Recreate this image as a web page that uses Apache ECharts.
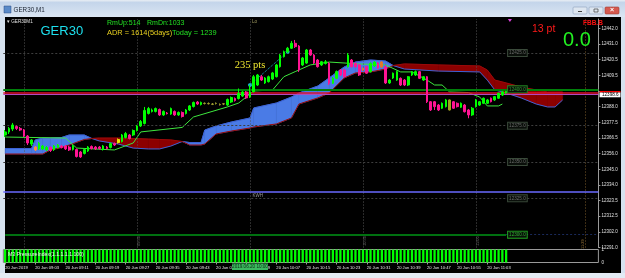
<!DOCTYPE html>
<html><head><meta charset="utf-8">
<script src="https://cdn.jsdelivr.net/npm/echarts@6.0.0/dist/echarts.min.js"></script>
<style>html,body{margin:0;padding:0;overflow:hidden;background:#d6e2ef}#c{width:625px;height:278px}</style>
</head><body><div id="c"></div>
<script>
// ---------------- data ----------------
const startMinute = 8 * 60 + 55;
const barSlots = 158;
const categories = [];
for (let k = 0; k < barSlots; k++) {
  const m = startMinute + k;
  categories.push(String(Math.floor(m / 60)).padStart(2, '0') + ':' + String(m % 60).padStart(2, '0'));
}
const tickIndex = [0, 8, 16, 24, 32, 40, 48, 56, 64, 72, 80, 88, 96, 104, 112, 120, 128];
const tickLabels = ['20 Jun 2019', '20 Jun 09:03', '20 Jun 09:11', '20 Jun 09:19', '20 Jun 09:27', '20 Jun 09:35',
  '20 Jun 09:43', '20 Jun 09:51', '20 Jun 09:59', '20 Jun 10:07', '20 Jun 10:15', '20 Jun 10:23', '20 Jun 10:31',
  '20 Jun 10:39', '20 Jun 10:47', '20 Jun 10:55', '20 Jun 11:03'];

const open = [12368.6,12370.7,12372.7,12374.4,12373.1,12372.0,12367.9,12362.4,12360.3,12359.0,
12359.0,12358.3,12360.0,12358.6,12360.0,12361.0,12361.0,12360.3,12358.6,12358.6,
12356.9,12355.9,12357.6,12360.7,12360.3,12360.3,12358.6,12360.3,12360.0,12362.7,
12363.4,12364.1,12366.9,12368.6,12368.6,12371.7,12374.8,12376.5,12383.4,12384.8,
12384.8,12386.1,12382.4,12383.7,12383.0,12384.8,12382.4,12384.1,12383.4,12385.8,
12388.2,12391.3,12389.6,12390.3,12390.3,12389.9,12390.3,12389.6,12389.9,12389.2,
12391.3,12393.7,12393.7,12395.4,12398.2,12394.7,12398.4,12403.0,12408.7,12404.4,
12405.3,12407.1,12408.7,12415.6,12422.5,12425.9,12428.3,12431.7,12429.8,12416.8,
12418.1,12427.1,12423.6,12420.2,12416.8,12417.8,12417.9,12404.2,12407.6,12413.3,
12413.3,12415.6,12420.2,12417.9,12416.8,12414.5,12415.6,12412.2,12416.1,12418.1,
12418.8,12415.4,12404.4,12407.8,12406.4,12407.6,12406.4,12403.0,12409.9,12409.9,
12412.2,12406.4,12408.7,12391.5,12391.5,12389.2,12387.0,12388.1,12385.8,12391.5,
12390.4,12387.7,12389.2,12385.8,12382.4,12388.1,12389.2,12390.4,12390.4,12393.9,
12392.7,12393.9,12396.1,12397.5];
const close = [12370.7,12373.1,12375.5,12373.1,12372.0,12367.9,12363.1,12365.2,12358.3,12362.7,
12361.0,12360.0,12357.9,12361.0,12361.7,12360.0,12359.0,12358.3,12361.0,12353.8,
12353.5,12358.6,12360.3,12359.3,12359.0,12359.3,12361.0,12359.3,12362.7,12361.7,
12365.5,12368.6,12369.6,12366.2,12371.7,12374.8,12377.9,12385.5,12386.8,12385.8,
12386.8,12382.4,12384.8,12383.3,12386.8,12382.4,12384.1,12381.3,12385.8,12388.6,
12391.0,12389.9,12391.0,12390.4,12390.1,12389.7,12390.4,12389.4,12390.1,12393.0,
12394.4,12392.3,12397.2,12398.2,12394.1,12398.2,12408.7,12409.9,12406.4,12407.8,
12408.7,12411.3,12416.8,12423.6,12425.9,12428.3,12431.7,12429.4,12413.3,12421.6,
12427.1,12423.6,12418.1,12415.6,12419.0,12419.0,12404.2,12407.6,12412.2,12409.9,
12408.7,12423.6,12415.6,12415.6,12409.9,12413.3,12411.1,12417.9,12418.8,12414.7,
12415.4,12404.4,12406.4,12411.1,12412.2,12403.0,12403.0,12408.7,12412.2,12412.2,
12407.6,12408.7,12391.5,12385.8,12388.1,12385.8,12390.4,12392.7,12392.7,12387.0,
12388.1,12390.4,12384.6,12382.4,12387.0,12392.7,12391.5,12393.9,12392.7,12391.5,
12395.0,12397.3,12398.2,12398.6];
const low = [12367.2,12369.3,12371.3,12372.0,12371.3,12367.2,12361.7,12361.0,12357.6,12358.3,
12358.3,12357.6,12356.9,12357.6,12359.3,12359.3,12358.3,12357.6,12357.9,12353.1,
12352.8,12355.2,12356.9,12358.6,12358.3,12358.6,12357.9,12358.6,12359.3,12361.0,
12362.7,12363.4,12366.2,12365.5,12367.9,12371.0,12374.1,12375.8,12382.7,12384.1,
12384.1,12381.7,12381.7,12382.7,12382.4,12381.7,12381.7,12380.6,12382.7,12385.1,
12387.5,12389.2,12388.9,12389.6,12389.6,12389.2,12389.6,12388.9,12389.2,12388.6,
12390.6,12391.6,12393.0,12394.7,12393.4,12394.1,12397.8,12402.3,12405.8,12403.7,
12404.7,12406.4,12408.2,12415.0,12421.9,12425.0,12427.8,12428.5,12412.0,12416.1,
12417.5,12423.0,12417.5,12415.0,12416.1,12417.1,12403.0,12403.7,12407.1,12409.2,
12408.2,12415.0,12415.0,12415.0,12409.2,12412.6,12410.6,12411.6,12415.4,12414.0,
12414.7,12403.7,12403.7,12407.1,12405.8,12402.3,12402.3,12402.3,12409.2,12409.2,
12407.1,12405.8,12390.6,12385.1,12385.8,12385.1,12386.5,12387.5,12385.5,12386.5,
12387.5,12387.2,12384.1,12380.1,12381.7,12387.5,12388.6,12389.9,12389.9,12391.0,
12392.0,12393.4,12395.4,12396.8];
const high = [12372.0,12374.1,12376.9,12375.1,12374.1,12372.7,12368.6,12365.8,12361.0,12363.8,
12361.7,12361.0,12360.7,12361.7,12362.4,12361.7,12361.7,12361.0,12361.7,12359.3,
12357.6,12359.3,12361.0,12361.4,12361.0,12361.0,12361.7,12361.0,12363.4,12363.4,
12366.2,12369.3,12370.7,12369.3,12372.4,12375.5,12378.9,12387.9,12387.9,12386.8,
12387.5,12386.8,12385.5,12384.4,12387.5,12385.5,12384.8,12384.8,12386.5,12389.2,
12391.6,12392.0,12391.6,12391.0,12391.0,12390.6,12391.0,12390.3,12390.6,12393.7,
12395.1,12394.4,12400.6,12398.9,12398.9,12403.0,12409.9,12410.6,12409.9,12408.5,
12409.5,12412.0,12417.5,12424.3,12426.7,12429.2,12433.3,12434.0,12430.5,12422.3,
12427.8,12427.8,12424.3,12420.9,12419.5,12420.2,12418.8,12408.5,12413.0,12414.0,
12414.0,12425.0,12420.9,12418.5,12417.5,12415.0,12416.1,12418.5,12419.5,12418.8,
12419.5,12416.8,12407.1,12411.6,12413.0,12408.2,12407.1,12409.2,12412.6,12413.0,
12412.6,12409.2,12409.2,12392.0,12392.0,12389.9,12391.0,12393.4,12393.0,12392.0,
12391.0,12391.0,12389.9,12386.5,12387.9,12393.4,12392.0,12394.4,12393.4,12394.4,
12395.4,12397.8,12398.9,12398.9];

// Ichimoku cloud vertices (bar index, Senkou A, Senkou B)
const cloudIdx = [0,7,8,10,12,15,17,21,23,25,30,34,38,41,44,47,49,52,53,56,60,65,66,72,76,78,83,86,90,93,97,101,103,106,115,126,128,130,133,137,141,144,146,148];
const spanA = [12359.3,12359.3,12365.2,12366.5,12366.5,12366.9,12368.6,12368.6,12366.2,12364.5,
12362.4,12359.6,12359.0,12359.0,12361.0,12364.1,12363.4,12363.4,12372.0,12374.8,
12377.5,12380.3,12387.2,12390.6,12394.7,12397.5,12402.3,12407.8,12415.4,12418.8,
12420.2,12419.5,12416.4,12414.0,12412.6,12412.0,12406.4,12399.6,12397.5,12394.1,
12389.9,12387.9,12387.9,12392.7];
const spanB = [12355.5,12355.5,12355.5,12355.5,12358.3,12360.0,12361.7,12365.5,12366.2,12366.5,
12366.5,12366.2,12365.8,12365.5,12365.2,12364.1,12361.7,12361.7,12362.4,12369.3,
12371.3,12373.4,12374.1,12376.2,12380.3,12389.9,12394.1,12397.5,12407.8,12411.3,
12412.0,12414.0,12416.4,12417.5,12416.8,12416.1,12413.3,12406.4,12404.4,12401.6,
12399.6,12398.2,12398.2,12398.2];

// Kijun-sen vertices
const kijunIdx = [0,16,19,29,34,36,47,50,59,62,66,71,74,77,81,86,94,101,105,108,112,114,116,118,123,126,128,131,132];
const kijun = [12367.2,12366.5,12359.6,12358.3,12363.1,12370.7,12373.8,12381.0,12387.9,12390.6,
12398.9,12399.6,12408.7,12412.2,12416.8,12418.8,12417.5,12416.8,12412.0,12412.0,
12406.4,12403.0,12403.0,12398.2,12397.8,12394.7,12388.6,12388.6,12389.9];

// horizontal levels
const roundLevels = [12425, 12400, 12375, 12350, 12325, 12300];
const redLevel = 12398.0;
const purpleLevel = 12396.6;
const blueLevel = 12329.2;
const lastPrice = 12398.6;
const gridTimes = [5, 35, 65, 95, 125];
const futureLine = 154;
const trendStart = [65, 12403.0];
const trendEnd = [75, 12425.9];
const vLineNotes = [[35, '09:30'], [95, '10:30'], [125, '11:00']];

// sub-window histogram
const pressure = [1,1,1,1,1,1,1,1,1,1,1,1,1,1,1,1,1,1,1,1,1,1,1,1,1,1,1,1,1,1,1,1,1,1,1,1,1,1,1,1,
1,1,1,1,1,1,1,1,1,1,1,1,1,1,1,1,1,1,1,1,1,1,1,1,1,1,1,1,1,1,1,1,1,1,1,1,1,1,1,1,
1,1,1,1,1,1,1,1,1,1,1,1,1,1,1,1,1,1,1,1,1,1,1,1,1,1,1,1,1,1,1,1,1,1,1,1,1,1,1,1,
1,1,1,1,1,1,1,1,1,1,1,1,1,1];

// ---------------- styles ----------------
const BULL = '#00ff00', BEAR = '#ff1493';
const CLOUD_UP = '#4a7be6', CLOUD_DN = '#8c0000';
const FONT = '"Liberation Sans", Arial, sans-serif';
const candleColors = {8: '#ff8c40', 30: '#e8e800', 53: '#9a9a30', 54: '#9a9a30', 55: '#9a9a30', 56: '#9a9a30',
  57: '#9a9a30', 58: '#9a9a30', 95: '#e07830', 100: '#e07830', 118: '#a0a020'};

const candleData = open.map((o, k) => {
  const item = { value: [o, close[k], low[k], high[k]] };
  const c = candleColors[k];
  if (c) item.itemStyle = { color: c, color0: c, borderColor: c, borderColor0: c };
  return item;
});

const chart = echarts.init(document.getElementById('c'), null, { renderer: 'canvas', width: 625, height: 278 });

const YMIN = 12291.15, YMAX = 12448.42, YINT = 10.77;

function cloudRender(params, api) {
  const k = params.dataIndex;
  if (k >= cloudIdx.length - 1) return null;
  const a0 = api.coord([cloudIdx[k], spanA[k]]), b0 = api.coord([cloudIdx[k], spanB[k]]);
  const a1 = api.coord([cloudIdx[k + 1], spanA[k + 1]]), b1 = api.coord([cloudIdx[k + 1], spanB[k + 1]]);
  const d0 = spanA[k] - spanB[k], d1 = spanA[k + 1] - spanB[k + 1];
  const poly = (pts, up) => ({ type: 'polygon', shape: { points: pts },
    style: { fill: up ? CLOUD_UP : CLOUD_DN, stroke: up ? CLOUD_UP : CLOUD_DN, lineWidth: 0.6 } });
  const children = [];
  if (d0 * d1 >= 0) {
    children.push(poly([a0, a1, b1, b0], d0 + d1 >= 0));
  } else {
    const t = d0 / (d0 - d1);
    const m = [a0[0] + t * (a1[0] - a0[0]), a0[1] + t * (a1[1] - a0[1])];
    children.push(poly([a0, m, b0], d0 > 0));
    children.push(poly([m, a1, b1], d1 > 0));
  }
  return { type: 'group', children };
}

const boxLabel = (color, border) => ({
  show: true, position: 'inside', formatter: '{b}', fontSize: 4.6, fontFamily: FONT, color: color,
  backgroundColor: '#0a0f0a', borderColor: border, borderWidth: 1, padding: [1, 1, 0, 1]
});

const option = {
  animation: false,
  backgroundColor: '#d6e2ef',
  grid: [
    { left: 3.29, right: 26.6, top: 19, bottom: 30.47 },
    { left: 3.29, right: 26.6, top: 249.5, height: 13, show: true, backgroundColor: '#000', borderColor: '#9a9a9a', borderWidth: 1 }
  ],
  xAxis: [
    { type: 'category', gridIndex: 0, data: categories, boundaryGap: true,
      axisLine: { show: false }, axisTick: { show: false }, axisLabel: { show: false }, splitLine: { show: false } },
    { type: 'category', gridIndex: 1, data: categories, boundaryGap: true,
      axisLine: { show: false },
      axisTick: { show: true, alignWithLabel: true, length: 2, lineStyle: { color: '#9a9a9a' },
        interval: (i) => tickIndex.indexOf(i) >= 0 },
      axisLabel: { show: true, interval: (i) => tickIndex.indexOf(i) >= 0,
        formatter: (v, i) => { const p = tickIndex.indexOf(i); return p >= 0 ? tickLabels[p] : ''; },
        fontSize: 4.1, fontFamily: FONT, color: '#e6e6e6', align: 'left', margin: 3 },
      splitLine: { show: false } }
  ],
  yAxis: [
    { type: 'value', gridIndex: 0, position: 'right', min: YMIN, max: YMAX, interval: YINT,
      axisLine: { show: true, lineStyle: { color: '#9a9a9a' } },
      axisTick: { show: true, length: 2, lineStyle: { color: '#9a9a9a' } },
      axisLabel: { show: true, showMaxLabel: false, fontSize: 4.5, fontFamily: FONT, color: '#e0e0e0', margin: 3,
        formatter: (v) => (Math.abs(v - 12398.85) < 1 ? '' : (Math.round(v * 2) / 2).toFixed(1)) },
      splitLine: { show: false } },
    { type: 'value', gridIndex: 1, position: 'right', min: 0, max: 1, interval: 1,
      axisLine: { show: false }, axisTick: { show: false },
      axisLabel: { show: true, fontSize: 4.5, fontFamily: FONT, color: '#e0e0e0', margin: 3 },
      splitLine: { show: false } }
  ],
  series: [
    { type: 'line', name: 'grid', xAxisIndex: 0, yAxisIndex: 0, data: [], z: 1,
      markLine: { silent: true, symbol: ['none', 'none'], label: { show: false }, animation: false,
        lineStyle: { color: '#565656', type: [1, 2], width: 1 },
        data: gridTimes.map(i => ({ xAxis: i })).concat([{ xAxis: futureLine, lineStyle: { color: '#7a5a2a', type: [1, 2], width: 1 } }]) } },
    { type: 'custom', name: 'cloud', xAxisIndex: 0, yAxisIndex: 0, z: 2, clip: true,
      data: cloudIdx.map((x, k) => [x, spanA[k], spanB[k]]), encode: { x: 0, y: [1, 2] }, renderItem: cloudRender },
    { type: 'line', name: 'senkouA', data: cloudIdx.map((x, k) => [x, spanA[k]]), symbol: 'none', z: 3,
      lineStyle: { color: '#3c62d6', width: 1 } },
    { type: 'line', name: 'senkouB', data: cloudIdx.map((x, k) => [x, spanB[k]]), symbol: 'none', z: 3,
      lineStyle: { color: '#9a0a0a', width: 1 } },
    { type: 'line', name: 'kijun', data: kijunIdx.map((x, k) => [x, kijun[k]]), symbol: 'none', z: 4,
      lineStyle: { color: '#3ee63e', width: 1 } },
    { type: 'candlestick', name: 'GER30', data: candleData, barWidth: 2.2, z: 5,
      itemStyle: { color: BULL, color0: BEAR, borderColor: BULL, borderColor0: BEAR, borderWidth: 1 } },
    { type: 'line', name: 'levels', data: [], z: 6,
      markLine: { silent: true, symbol: ['none', 'none'], label: { show: false }, animation: false,
        data: [
          { yAxis: 12425, lineStyle: { color: '#3e3e3e', type: [2, 2], width: 1 } },
          { yAxis: 12375, lineStyle: { color: '#3e3e3e', type: [2, 2], width: 1 } },
          { yAxis: 12350, lineStyle: { color: '#3e3e3e', type: [2, 2], width: 1 } },
          { yAxis: 12325, lineStyle: { color: '#3e3e3e', type: [2, 2], width: 1 } },
          { yAxis: blueLevel, lineStyle: { color: '#6a6aff', type: 'solid', width: 1.5 } },
          { yAxis: 12400, lineStyle: { color: '#00800a', type: 'solid', width: 2 } },
          { yAxis: redLevel, lineStyle: { color: '#e0102a', type: 'solid', width: 1.5 } },
          { yAxis: purpleLevel, lineStyle: { color: '#b048c0', type: 'solid', width: 1 } },
          [{ coord: [0, 12300] }, { coord: [133, 12300], lineStyle: { color: '#007010', type: 'solid', width: 2 } }],
          [{ coord: [133, 12300] }, { coord: [157, 12300], lineStyle: { color: '#1a2a5a', type: [2, 2], width: 1 } }]
        ] } },
    { type: 'line', name: 'notes', data: [], z: 7,
      markLine: { silent: true, symbol: ['circle', 'circle'], symbolSize: 4, label: { show: false }, animation: false,
        lineStyle: { color: '#18b0c8', type: [1, 1], width: 1 },
        data: [[{ coord: trendStart }, { coord: trendEnd }]] },
      markPoint: { silent: true, symbol: 'circle', symbolSize: 0, animation: false,
        data: [
          { name: '12425.0', coord: [136, 12425], label: boxLabel('#6a6a6a', '#3a4a3a') },
          { name: '12400.0', coord: [136, 12400], label: boxLabel('#30a030', '#208020') },
          { name: '12375.0', coord: [136, 12375], label: boxLabel('#6a6a6a', '#3a4a3a') },
          { name: '12350.0', coord: [136, 12350], label: boxLabel('#6a6a6a', '#3a4a3a') },
          { name: '12325.0', coord: [136, 12325], label: boxLabel('#6a6a6a', '#3a4a3a') },
          { name: '12300.0', coord: [136, 12300], label: boxLabel('#30b030', '#20a020') },
          { name: '235 pts', coord: [65, 12416.8], label: { show: true, position: 'inside', formatter: '{b}',
            fontSize: 10.5, fontFamily: '"Liberation Serif", "Times New Roman", serif', color: '#f0e830' } },
          { name: 'KWH', coord: [66, blueLevel], label: { show: true, position: 'inside', formatter: '{b}', offset: [4, 4],
            fontSize: 4.5, fontFamily: FONT, color: '#9a9a9a' } },
          { name: 'top', coord: [134, YMAX], symbol: 'triangle', symbolSize: [4, 3], symbolRotate: 180, symbolOffset: [0, 1.5],
            itemStyle: { color: '#e040e0' }, label: { show: false } }
        ] } },
    { type: 'bar', name: 'pressure', xAxisIndex: 1, yAxisIndex: 1, data: pressure, barWidth: 2.3,
      itemStyle: { color: '#00ff00' } }
  ]
};
chart.setOption(option);

// --------- window chrome and screen-anchored texts ---------
const px10 = chart.convertToPixel({ xAxisIndex: 1 }, categories[65]);
const pyLast = chart.convertToPixel({ yAxisIndex: 0 }, lastPrice);
const txt = (t, x, y, fill, font, extra) => Object.assign({ type: 'text', z: 100,
  style: { text: t, x: x, y: y, fill: fill, font: font, verticalAlign: 'middle' } }, extra || {});
const els = [
  { type: 'rect', z: -10, shape: { x: 0, y: 0, width: 625, height: 278 }, style: { fill: '#d6e2ef' } },
  { type: 'rect', z: -9, shape: { x: 0, y: 0, width: 625, height: 17 },
    style: { fill: { type: 'linear', x: 0, y: 0, x2: 0, y2: 1, colorStops: [{ offset: 0, color: '#e9eef4' }, { offset: 0.15, color: '#c4d5ea' }, { offset: 1, color: '#dbe6f3' }] } } },
  { type: 'rect', z: -9, shape: { x: 5, y: 17, width: 616, height: 256 }, style: { fill: '#000' } },
  { type: 'rect', z: -9, shape: { x: 0, y: 273, width: 625, height: 5 }, style: { fill: '#e3ebf4' } },
  { type: 'rect', z: 90, shape: { x: 4, y: 6, width: 7, height: 7 }, style: { fill: '#5a8ac8', stroke: '#2a4a80', lineWidth: 0.5 } },
  txt('GER30,M1', 13.5, 10.3, '#1a2230', '6.3px ' + FONT),
  { type: 'rect', z: 90, shape: { x: 573, y: 7, width: 14, height: 7, r: 1 }, style: { fill: '#dde6f0', stroke: '#8aa0bc', lineWidth: 0.6 } },
  { type: 'rect', z: 90, shape: { x: 589, y: 7, width: 14, height: 7, r: 1 }, style: { fill: '#dde6f0', stroke: '#8aa0bc', lineWidth: 0.6 } },
  { type: 'rect', z: 90, shape: { x: 605, y: 7, width: 14, height: 7, r: 1 }, style: { fill: '#d65a50', stroke: '#a03a30', lineWidth: 0.6 } },
  { type: 'rect', z: 91, shape: { x: 578, y: 11, width: 4, height: 1 }, style: { fill: '#404040' } },
  { type: 'rect', z: 91, shape: { x: 594, y: 9, width: 4, height: 3 }, style: { fill: 'none', stroke: '#404040', lineWidth: 0.7 } },
  { type: 'text', z: 100, style: { text: '×', x: 612, y: 10.5, fill: '#fff', font: 'bold 7px ' + FONT, align: 'center', verticalAlign: 'middle' } },
  txt('▾ GER30M1', 7, 21.8, '#e0e0e0', '4.6px ' + FONT),
  txt('GER30', 40.5, 31.5, '#1ee0ee', '13px ' + FONT),
  txt('RmUp:514', 107, 23.3, '#22e022', '7px ' + FONT),
  txt('RmDn:1033', 147, 23.3, '#22e022', '7px ' + FONT),
  txt('ADR = 1614(5days)', 107, 33, '#e8d020', '7.4px ' + FONT),
  txt('Today = 1239', 172, 33, '#22e022', '7.4px ' + FONT),
  txt('13 pt', 532, 29, '#ff1a1a', '10.5px ' + FONT),
  txt('0.0', 563, 40.5, '#22f022', '20px ' + FONT),
  txt('FBB.B', 583, 23, '#ff1010', 'bold 6.5px ' + FONT),
  txt('Lo', px10 + 2, 21.8, '#a09a60', '4.6px ' + FONT),
  txt('M3 PressureIndex(1.1.1.1.1.100)', 8, 254.3, '#f0f0f0', '5.2px ' + FONT),
  { type: 'rect', z: 100, shape: { x: px10 - 18, y: 263.5, width: 36, height: 6.5 }, style: { fill: '#3cb860' } },
  { type: 'text', z: 101, style: { text: '2019.06.20 10:00', x: px10, y: 266.8, fill: '#0a2a10', font: '4.6px ' + FONT, align: 'center', verticalAlign: 'middle' } },
  { type: 'rect', z: 100, shape: { x: 599.5, y: pyLast + 0.9, width: 21, height: 5 }, style: { fill: '#ffffff' } },
  { type: 'rect', z: 100, shape: { x: 599.5, y: pyLast - 0.4, width: 21, height: 1.3 }, style: { fill: '#ff0000' } },
  { type: 'text', z: 101, style: { text: lastPrice.toFixed(1), x: 602, y: pyLast + 3.5, fill: '#000', font: '4.6px ' + FONT, verticalAlign: 'middle' } }
];
vLineNotes.forEach(([i, t]) => {
  const x = chart.convertToPixel({ xAxisIndex: 0 }, categories[i]);
  els.push({ type: 'text', z: 100, x: x + 1.5, y: 246, rotation: Math.PI / 2,
    style: { text: t, x: 0, y: 0, fill: '#6a6a6a', font: '4px ' + FONT, align: 'left', verticalAlign: 'middle' } });
});
{
  const x = chart.convertToPixel({ xAxisIndex: 0 }, categories[futureLine]);
  els.push({ type: 'text', z: 100, x: x - 2, y: 249, rotation: Math.PI / 2,
    style: { text: '11:29', x: 0, y: 0, fill: '#a07a3a', font: '4px ' + FONT, align: 'left', verticalAlign: 'middle' } });
}
chart.setOption({ graphic: els });
</script></body></html>
